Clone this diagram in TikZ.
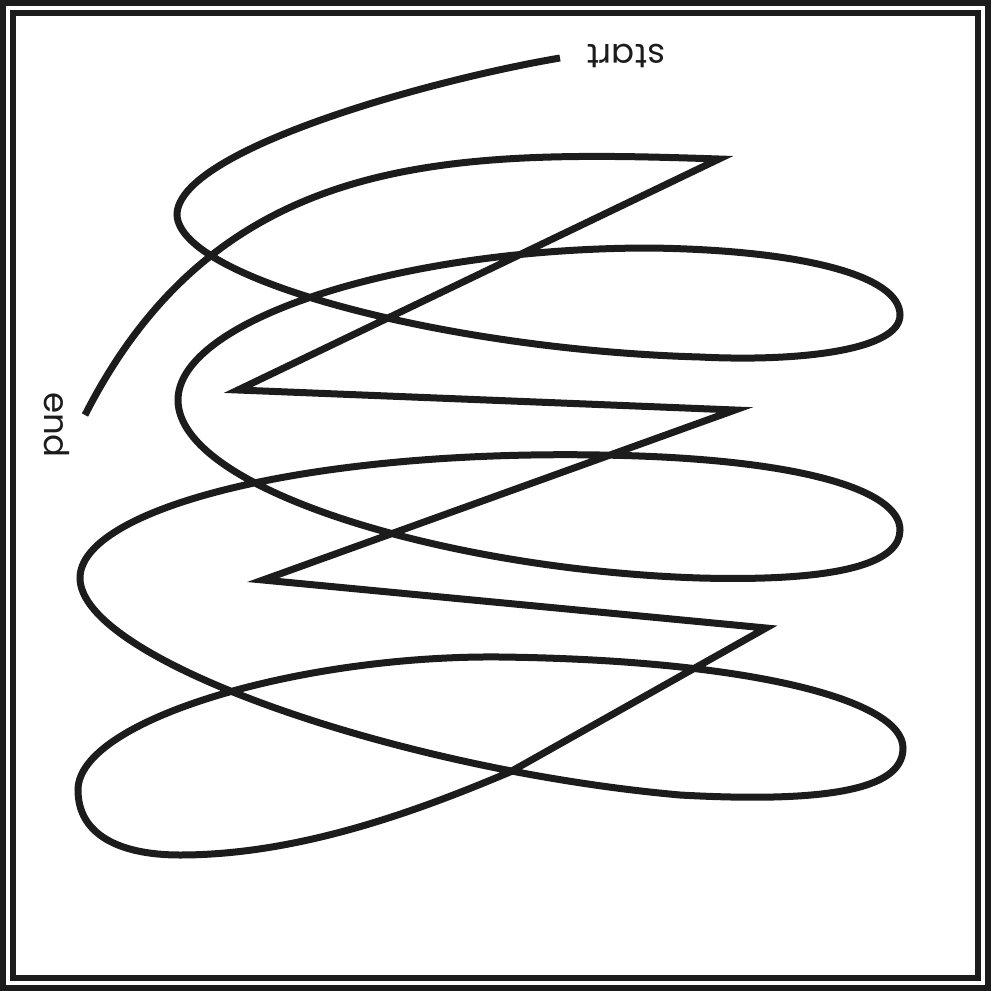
\documentclass[tikz,border=0pt]{standalone}
\usepackage{fontspec}
\setmainfont{Poppins}
\usepackage{tikz}
\usetikzlibrary{positioning,calc}
\definecolor{Ink}{HTML}{1C1C1C}
\tikzset{
  frameline/.style={draw=Ink,line width=6pt},
  scribble/.style={draw=Ink,line width=7pt,line join=miter,miter limit=20},
  tag/.style={text=Ink,font=\fontsize{34}{36}\selectfont,inner sep=0pt}
}

\begin{document}
\begin{tikzpicture}[x=1pt,y=-1pt]
  \useasboundingbox (0,0) rectangle (991,991);
  % double frame
  \draw[frameline] (3,3) rectangle (988,988);
  \draw[frameline] (13,13) rectangle (978,978);
  % loose ends of the scribble
  \coordinate (startpt) at (560,58);
  \coordinate (endpt) at (85,415);
  \node[tag,rotate=180] (startlabel) at (626,56) {start};
  \node[tag,rotate=-90] (endlabel) at (57,425) {end};
  % the scribble: three loops, a small one, then the zigzag back up
  \draw[scribble] (startpt)
    .. controls (430,80) and (177,150) .. (177,215)
    .. controls (180,280) and (450,350) .. (700,357)
    .. controls (800,362) and (900,350) .. (900,315)
    .. controls (900,275) and (800,250) .. (650,248)
    .. controls (400,248) and (178,320) .. (178,400)
    .. controls (178,490) and (450,570) .. (700,578)
    .. controls (850,582) and (900,560) .. (900,530)
    .. controls (900,490) and (800,458) .. (600,455)
    .. controls (300,450) and (80,510) .. (80,578)
    .. controls (80,660) and (400,770) .. (680,795)
    .. controls (860,805) and (903,780) .. (903,748)
    .. controls (903,700) and (750,660) .. (500,657)
    .. controls (300,655) and (78,720) .. (78,790)
    .. controls (78,835) and (120,855) .. (180,855)
    .. controls (300,855) and (420,810) .. (510,772)
    -- (766,628) -- (263,580) -- (735,410) -- (238,390) -- (719,159)
    .. controls (450,150) and (220,150) .. (endpt);
\end{tikzpicture}
\end{document}
